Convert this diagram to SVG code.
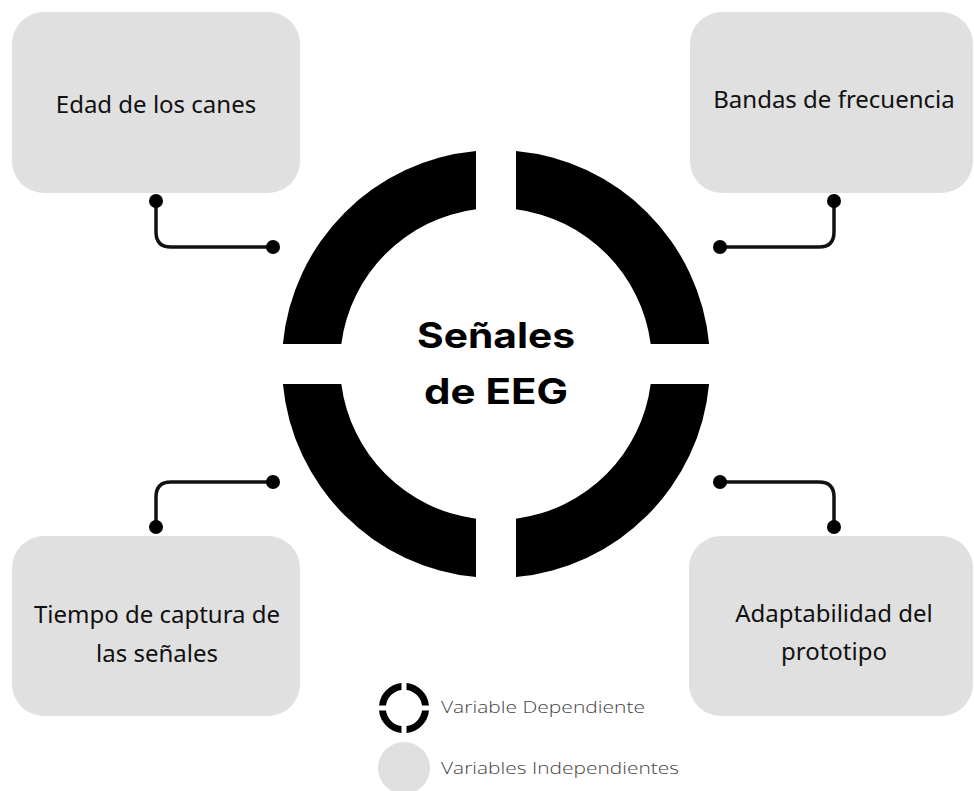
<svg xmlns="http://www.w3.org/2000/svg" width="974" height="791" viewBox="0 0 974 791">
<style>
.box{fill:#e0e0e0}
.lbl{font-family:"Noto Sans","Open Sans",sans-serif;font-size:24px;fill:#111;text-anchor:middle}
.ttl{font-family:Inter,"Open Sans",sans-serif;font-weight:700;font-size:35px;fill:#000;text-anchor:middle}
.leg{font-family:"Open Sans","Noto Sans",sans-serif;font-weight:300;font-size:17px;fill:#444}
.seg{fill:#000}
.con{fill:none;stroke:#111;stroke-width:3.5}
.dot{fill:#000}
</style>
<rect width="974" height="791" fill="#fff"/>
<g id="connectors">
<path class="con" d="M156,201 V232 Q156,247 171,247 H273"/>
<circle class="dot" cx="156" cy="201" r="7"/><circle class="dot" cx="273" cy="247" r="7"/>
<path class="con" d="M834,201 V232 Q834,247 819,247 H720"/>
<circle class="dot" cx="834" cy="201" r="7"/><circle class="dot" cx="720" cy="247" r="7"/>
<path class="con" d="M156,527 V497 Q156,482 171,482 H273"/>
<circle class="dot" cx="156" cy="527" r="7"/><circle class="dot" cx="273" cy="482" r="7"/>
<path class="con" d="M834,527 V497 Q834,482 819,482 H720"/>
<circle class="dot" cx="834" cy="527" r="7"/><circle class="dot" cx="720" cy="482" r="7"/>
</g>
<g id="center">
<path class="seg" d="M282.9,344 A214,214 0 0 1 476,150.9 L476,209.3 A156,156 0 0 0 341.3,344 Z"/>
<path class="seg" d="M516,150.9 A214,214 0 0 1 709.1,344 L650.7,344 A156,156 0 0 0 516,209.3 Z"/>
<path class="seg" d="M709.1,384 A214,214 0 0 1 516,577.1 L516,518.7 A156,156 0 0 0 650.7,384 Z"/>
<path class="seg" d="M476,577.1 A214,214 0 0 1 282.9,384 L341.3,384 A156,156 0 0 0 476,518.7 Z"/>
<text class="ttl" x="496" y="348" textLength="158" lengthAdjust="spacingAndGlyphs">Señales</text>
<text class="ttl" x="496" y="404" textLength="144" lengthAdjust="spacingAndGlyphs">de EEG</text>
</g>
<g id="edad">
<rect class="box" x="12" y="12" width="288" height="181" rx="32"/>
<text class="lbl" x="156" y="113">Edad de los canes</text>
</g>
<g id="bandas">
<rect class="box" x="690" y="12" width="283" height="181" rx="32"/>
<text class="lbl" x="834" y="108">Bandas de frecuencia</text>
</g>
<g id="tiempo">
<rect class="box" x="12" y="536" width="288" height="180" rx="32"/>
<text class="lbl" x="157" y="623">Tiempo de captura de</text>
<text class="lbl" x="157" y="662">las señales</text>
</g>
<g id="adaptabilidad">
<rect class="box" x="689" y="536" width="284" height="180" rx="32"/>
<text class="lbl" x="834" y="622">Adaptabilidad del</text>
<text class="lbl" x="834" y="660">prototipo</text>
</g>
<g id="legend">
<path class="seg" d="M401.5,683 A25,25 0 0 0 379,705.5 L386,705.5 A18,18 0 0 1 401.5,690 Z"/>
<path class="seg" d="M406.5,683 A25,25 0 0 1 429,705.5 L422,705.5 A18,18 0 0 0 406.5,690 Z"/>
<path class="seg" d="M429,710.5 A25,25 0 0 1 406.5,733 L406.5,726 A18,18 0 0 0 422,710.5 Z"/>
<path class="seg" d="M401.5,733 A25,25 0 0 1 379,710.5 L386,710.5 A18,18 0 0 0 401.5,726 Z"/>
<text class="leg" x="441" y="713" textLength="204" lengthAdjust="spacingAndGlyphs">Variable Dependiente</text>
<circle cx="404" cy="768" r="26" class="box"/>
<text class="leg" x="441" y="774" textLength="238" lengthAdjust="spacingAndGlyphs">Variables Independientes</text>
</g>
</svg>
